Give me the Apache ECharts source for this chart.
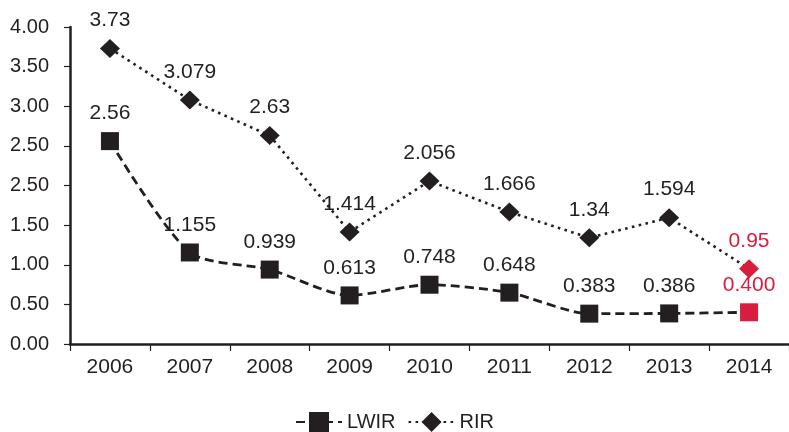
<!DOCTYPE html>
<html>
<head>
<meta charset="utf-8">
<script src="https://cdn.jsdelivr.net/npm/echarts@6/dist/echarts.min.js"></script>
<style>
html,body{margin:0;padding:0;background:#fff;}
#chart{width:789px;height:432px;}
</style>
</head>
<body>
<div id="chart"></div>
<script>
var categories = ['2006','2007','2008','2009','2010','2011','2012','2013','2014'];
var lwirValues = [2.56, 1.155, 0.939, 0.613, 0.748, 0.648, 0.383, 0.386, 0.400];
var lwirLabels = ['2.56','1.155','0.939','0.613','0.748','0.648','0.383','0.386','0.400'];
var rirValues = [3.73, 3.079, 2.63, 1.414, 2.056, 1.666, 1.34, 1.594, 0.95];
var rirLabels = ['3.73','3.079','2.63','1.414','2.056','1.666','1.34','1.594','0.95'];
var yTickLabels = ['0.00','0.50','1.00','1.50','2.50','2.50','3.00','3.50','4.00'];

var dark = '#231f20';
var red = '#d81e3f';
var fontFam = '"Liberation Sans", Arial, Helvetica, sans-serif';

function buildData(values, labels) {
  return values.map(function (v, i) {
    var item = { value: v, label: { formatter: labels[i] } };
    if (i === values.length - 1) {
      item.itemStyle = { color: red };
      item.label.color = red;
    }
    return item;
  });
}

var chart = echarts.init(document.getElementById('chart'), null, {renderer: 'canvas'});
chart.setOption({
  animation: false,
  backgroundColor: '#fff',
  textStyle: { fontFamily: fontFam },
  grid: { left: 70, right: -9, top: 27, bottom: 88, containLabel: false },
  legend: {
    top: 407,
    left: 'center',
    itemWidth: 46,
    itemHeight: 25,
    itemGap: 12,
    textStyle: { fontSize: 20, color: dark, fontFamily: fontFam },
    data: ['LWIR', 'RIR']
  },
  xAxis: {
    type: 'category',
    data: categories,
    boundaryGap: true,
    axisLine: { lineStyle: { color: dark, width: 2.5 } },
    axisTick: { show: true, length: 7, lineStyle: { color: dark, width: 1.2 } },
    axisLabel: { fontSize: 21, color: dark, margin: 13, fontFamily: fontFam },
    splitLine: { show: false }
  },
  yAxis: {
    type: 'value',
    min: 0,
    max: 4,
    interval: 0.5,
    axisLine: { show: true, lineStyle: { color: dark, width: 2.5 } },
    axisTick: { show: true, length: 6, lineStyle: { color: dark, width: 1.2 } },
    axisLabel: {
      fontSize: 20, color: dark, margin: 21, fontFamily: fontFam,
      formatter: function (v) {
        var idx = Math.round(v / 0.5);
        return yTickLabels[idx] !== undefined ? yTickLabels[idx] : '';
      }
    },
    splitLine: { show: false }
  },
  series: [
    {
      name: 'LWIR',
      type: 'line',
      data: buildData(lwirValues, lwirLabels),
      smooth: 0.25,
      symbol: 'rect',
      symbolSize: 18,
      itemStyle: { color: dark },
      lineStyle: { color: dark, width: 2.8, type: [9, 5] },
      label: { show: true, position: 'top', distance: 8, fontSize: 21, color: dark, fontFamily: fontFam }
    },
    {
      name: 'RIR',
      type: 'line',
      data: buildData(rirValues, rirLabels),
      smooth: false,
      symbol: 'diamond',
      symbolSize: [20, 19],
      itemStyle: { color: dark },
      lineStyle: { color: dark, width: 2.6, type: [2.6, 4.4] },
      label: { show: true, position: 'top', distance: 8, fontSize: 21, color: dark, fontFamily: fontFam }
    }
  ]
});
</script>
</body>
</html>
